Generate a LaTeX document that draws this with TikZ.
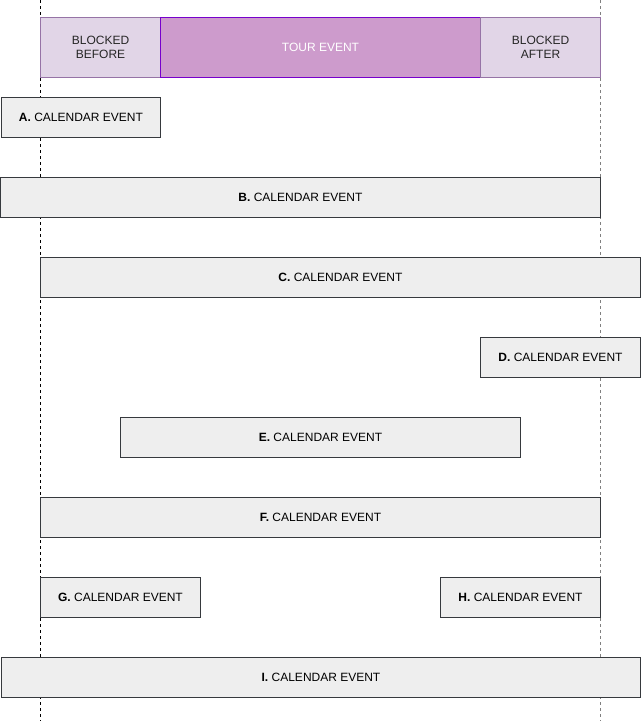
\documentclass[tikz,border=0pt]{standalone}
\usepackage{fontspec}
\setmainfont{Liberation Sans}
\definecolor{blkfill}{HTML}{E1D5E7}
\definecolor{blkdraw}{HTML}{9673A6}
\definecolor{tourfill}{HTML}{CD9BCC}
\definecolor{tourdraw}{HTML}{7700CC}
\definecolor{calfill}{HTML}{EEEEEE}
\definecolor{caldraw}{HTML}{36393D}
\begin{document}
\begin{tikzpicture}[x=1pt,y=-1pt,
  blk/.style={draw=blkdraw,fill=blkfill,line width=0.8pt,inner sep=0pt,
    minimum height=60pt,align=center,font=\fontsize{12}{13.5}\selectfont,text=black!85},
  tour/.style={draw=tourdraw,fill=tourfill,line width=0.8pt,inner sep=0pt,
    minimum height=60pt,minimum width=320pt,font=\fontsize{12}{13.5}\selectfont,text=white},
  cal/.style={draw=caldraw,fill=calfill,line width=0.8pt,inner sep=0pt,
    minimum height=40pt,font=\fontsize{12}{13.5}\selectfont,text=black},
  guide/.style={dashed,dash pattern=on 3pt off 3pt,line width=0.8pt}]
\useasboundingbox (0,0) rectangle (641,721);
\coordinate (l1) at (40.5,0);
\coordinate (l2) at (40.5,721);
\coordinate (r1) at (600.5,0);
\coordinate (r2) at (600.5,721);
\draw[guide,black] (l1) -- (l2);
\draw[guide,black!50] (r1) -- (r2);
\node[blk,minimum width=120pt] (bb) at (100.5,47.5) {BLOCKED\\BEFORE};
\node[tour] (te) at (320.5,47.5) {TOUR EVENT};
\node[blk,minimum width=120pt] (ba) at (540.5,47.5) {BLOCKED\\AFTER};
\node[cal,minimum width=159pt] (a) at (81,117.5) {\textbf{A.} CALENDAR EVENT};
\node[cal,minimum width=600pt] (b) at (300.5,197.5) {\textbf{B.} CALENDAR EVENT};
\node[cal,minimum width=600pt] (c) at (340.5,277.5) {\textbf{C.} CALENDAR EVENT};
\node[cal,minimum width=160pt] (d) at (560.5,357.5) {\textbf{D.} CALENDAR EVENT};
\node[cal,minimum width=400pt] (e) at (320.5,437.5) {\textbf{E.} CALENDAR EVENT};
\node[cal,minimum width=560pt] (f) at (320.5,517.5) {\textbf{F.} CALENDAR EVENT};
\node[cal,minimum width=160pt] (g) at (120.5,597.5) {\textbf{G.} CALENDAR EVENT};
\node[cal,minimum width=160pt] (h) at (520.5,597.5) {\textbf{H.} CALENDAR EVENT};
\node[cal,minimum width=639pt] (i) at (321,677.5) {\textbf{I.} CALENDAR EVENT};
\end{tikzpicture}
\end{document}
